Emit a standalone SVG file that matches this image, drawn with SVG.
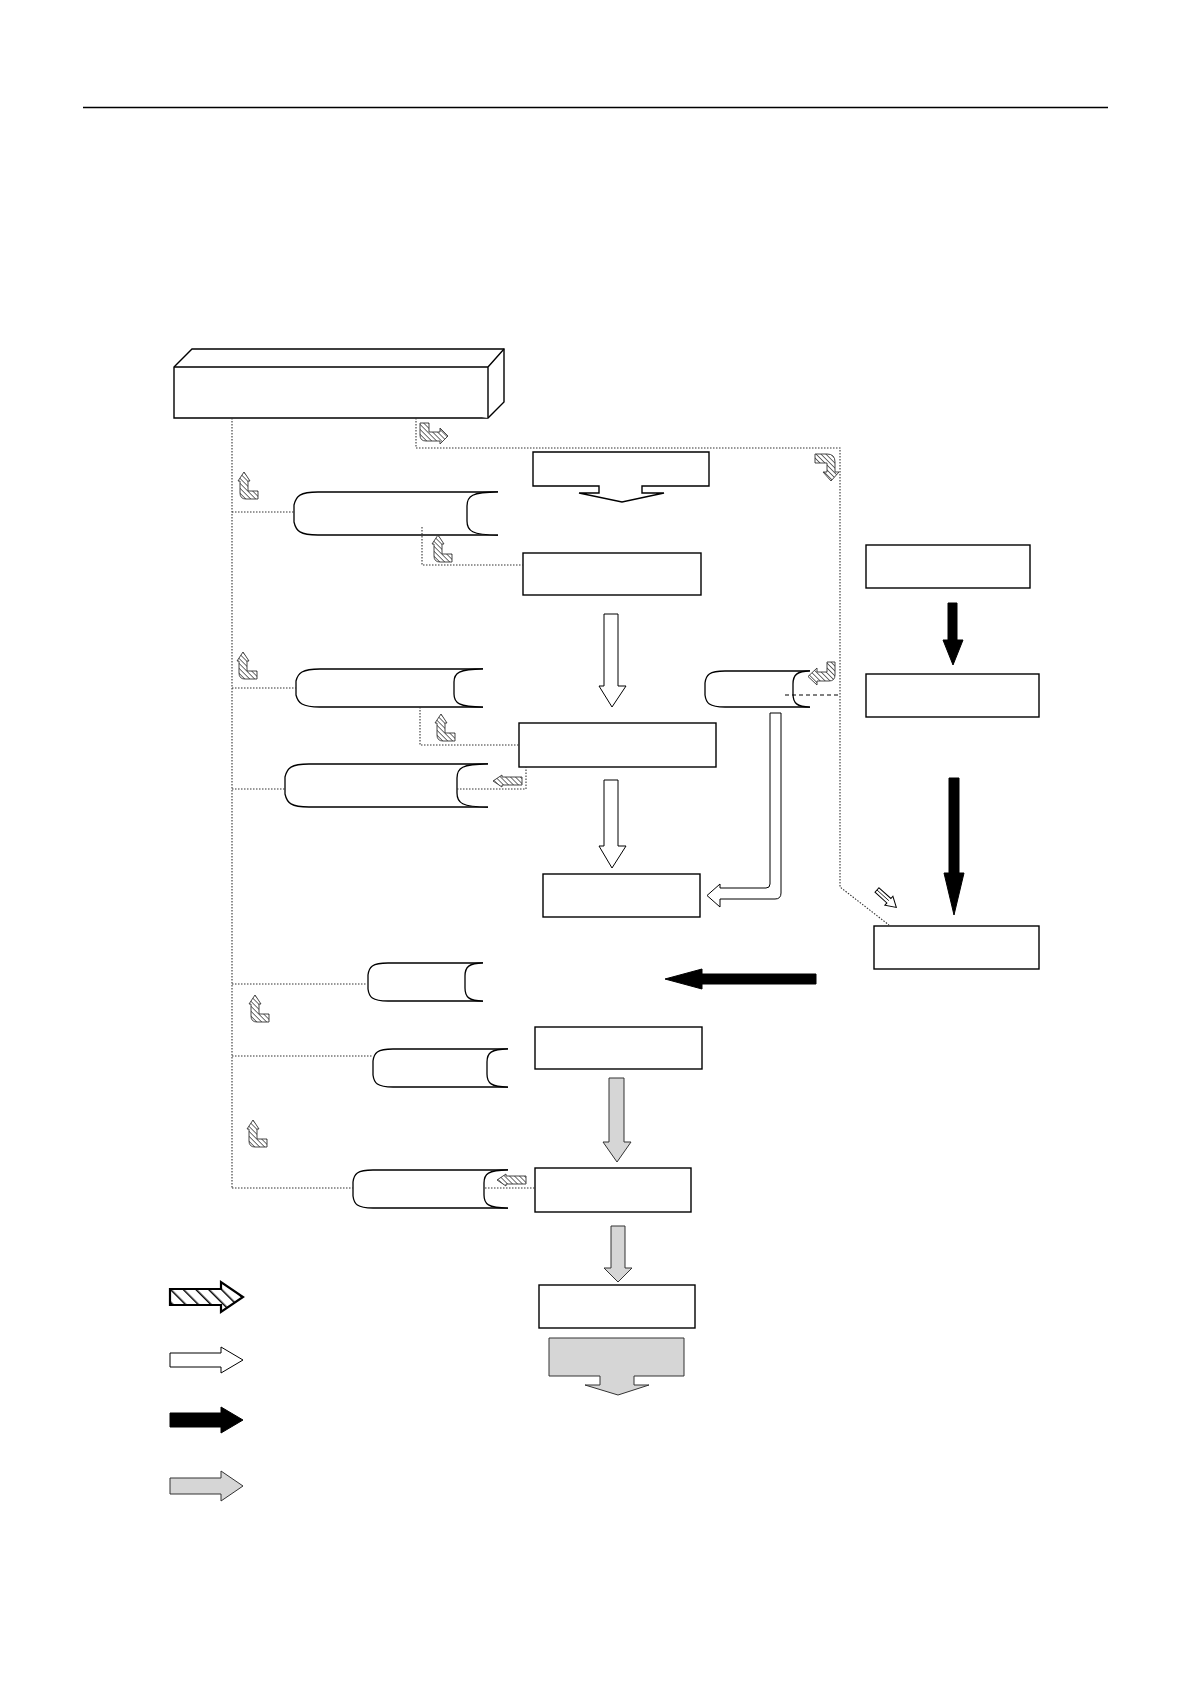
<svg xmlns="http://www.w3.org/2000/svg" width="1191" height="1684" viewBox="0 0 1191 1684">
<style>
.box{fill:#fff;stroke:#000;stroke-width:1.4}
.cyl{fill:#fff;stroke:#000;stroke-width:1.3}
.dot{fill:none;stroke:#333;stroke-width:1.1;stroke-dasharray:1.5,1.5}
.dash{fill:none;stroke:#000;stroke-width:1;stroke-dasharray:4,3}
.wa{fill:#fff;stroke:#000;stroke-width:1}
.ba{fill:#000;stroke:#000;stroke-width:1}
.ga{fill:#d6d6d6;stroke:#333;stroke-width:1}
.ha{fill:url(#hatch);stroke:#333;stroke-width:0.9}
.hl{fill:url(#hatchL);stroke:#000;stroke-width:2.2}
</style>
<defs>
<pattern id="hatch" patternUnits="userSpaceOnUse" width="3.5" height="3.5" patternTransform="rotate(-45)">
<rect width="3.5" height="3.5" fill="#fff"/>
<line x1="0" y1="0" x2="0" y2="3.5" stroke="#222" stroke-width="1.3"/>
</pattern>
<pattern id="hatchL" patternUnits="userSpaceOnUse" width="9" height="9" patternTransform="rotate(-45)">
<rect width="9" height="9" fill="#fff"/>
<line x1="0" y1="0" x2="0" y2="9" stroke="#000" stroke-width="3"/>
</pattern>
<path id="hUp" d="M6,0 L12,9 L10,9 L10,19 L20,19 L20,27 L8,27 Q2,27 2,21 L2,9 L0,9 Z"/>
<path id="hLeft" d="M0,6 L9,0 L9,2 L29,2 L29,10 L9,10 L9,12 Z"/>
</defs>

<line x1="83" y1="107.5" x2="1108" y2="107.5" stroke="#000" stroke-width="1.4"/>

<g id="node-source">
<path class="box" d="M174,367 L192,349 L504,349 L504,402 L488,418 L174,418 Z"/>
<path class="box" d="M174,367 H488 V418 M488,367 L504,349" fill="none"/>
</g>

<g id="node-r1">
<path class="box" d="M533,452 H709 V486 H642 V493 H664 L622,502 L579,493 H599 V486 H533 Z"/>
</g>
<g id="node-r2"><rect class="box" x="523" y="553" width="178" height="42"/></g>
<g id="node-r3"><rect class="box" x="519" y="723" width="197" height="44"/></g>
<g id="node-r4"><rect class="box" x="543" y="874" width="157" height="43"/></g>
<g id="node-r5"><rect class="box" x="866" y="545" width="164" height="43"/></g>
<g id="node-r6"><rect class="box" x="866" y="674" width="173" height="43"/></g>
<g id="node-r7"><rect class="box" x="874" y="926" width="165" height="43"/></g>
<g id="node-r8"><rect class="box" x="535" y="1027" width="167" height="42"/></g>
<g id="node-r9"><rect class="box" x="535" y="1168" width="156" height="44"/></g>
<g id="node-r10"><rect class="box" x="539" y="1285" width="156" height="43"/></g>
<g id="node-out">
<path class="ga" d="M549,1338 H684 V1376 H634 V1385 H649 L618,1395 L585,1385 H600 V1376 H549 Z"/>
</g>

<g id="node-c1">
<path class="cyl" d="M498,492 H318 C300,492 296,496 294,505 V522 C296,531 300,535 318,535 H498"/>
<path class="cyl" d="M498,492 C472,492 467,496 467,506 V521 C467,531 472,535 498,535" fill="none"/>
</g>
<g id="node-c2">
<path class="cyl" d="M483,669 H320 C302,669 298,673 296,681 V695 C298,703 302,707 320,707 H483"/>
<path class="cyl" d="M483,669 C459,669 454,673 454,682 V694 C454,703 459,707 483,707" fill="none"/>
</g>
<g id="node-c3">
<path class="cyl" d="M488,764 H309 C291,764 287,768 285,777 V794 C287,803 291,807 309,807 H488"/>
<path class="cyl" d="M488,764 C462,764 457,768 457,778 V793 C457,803 462,807 488,807" fill="none"/>
</g>
<g id="node-c4">
<path class="cyl" d="M810,671 H725 C709,671 706,675 705,683 V695 C706,703 709,707 725,707 H810"/>
<path class="cyl" d="M810,671 C797,671 793,675 793,684 V694 C793,703 797,707 810,707" fill="none"/>
</g>
<g id="node-c5">
<path class="cyl" d="M483,963 H388 C372,963 369,967 368,975 V989 C369,997 372,1001 388,1001 H483"/>
<path class="cyl" d="M483,963 C469,963 465,967 465,976 V988 C465,997 469,1001 483,1001" fill="none"/>
</g>
<g id="node-c6">
<path class="cyl" d="M508,1049 H393 C377,1049 374,1053 373,1061 V1075 C374,1083 377,1087 393,1087 H508"/>
<path class="cyl" d="M508,1049 C491,1049 487,1053 487,1062 V1074 C487,1083 491,1087 508,1087" fill="none"/>
</g>
<g id="node-c7">
<path class="cyl" d="M508,1170 H373 C357,1170 354,1174 353,1182 V1196 C354,1204 357,1208 373,1208 H508"/>
<path class="cyl" d="M508,1170 C488,1170 484,1174 484,1183 V1195 C484,1204 488,1208 508,1208" fill="none"/>
</g>

<g id="connectors">
<path class="dot" d="M232,418 V1188"/>
<path class="dot" d="M416,418 V448 H840 V887 L889,925"/>
<path class="dot" d="M232,512 H294"/>
<path class="dot" d="M422,527 V565 H523"/>
<path class="dot" d="M232,688 H296"/>
<path class="dot" d="M420,707 V745 H519"/>
<path class="dot" d="M232,789 H285"/>
<path class="dot" d="M457,789 H526 V767"/>
<path class="dot" d="M232,984 H367"/>
<path class="dot" d="M232,1056 H373"/>
<path class="dot" d="M232,1188 H353"/>
<path class="dot" d="M485,1188 H535"/>
<path class="dash" d="M785,695 H839"/>

<!-- white arrows -->
<path class="wa" d="M604,614 H618 V686 H626 L612,707 L599,686 H604 Z"/>
<path class="wa" d="M604,780 H618 V846 H626 L612,868 L599,846 H604 Z"/>
<path class="wa" d="M770,713 H781 V893 Q781,899 775,899 H720 V907 L707,895.5 L720,884 V888 H766 Q770,888 770,884 Z"/>
<!-- black arrows -->
<path class="ba" d="M948,603 H957 V640 H963 L953,665 L943,640 H948 Z"/>
<path class="ba" d="M949,778 H959 V873 H964 L954,915 L944,873 H949 Z"/>
<path class="ba" d="M816,974 V984 H702 V989 L665,979 L702,969 V974 Z"/>
<!-- gray arrows -->
<path class="ga" d="M609,1078 H624 V1142 H631 L617,1162 L603,1142 H609 Z"/>
<path class="ga" d="M611,1226 H625 V1268 H632 L618,1282 L604,1268 H611 Z"/>
<!-- small hatched arrows -->
<path class="ha" d="M420,423 L429,423 L429,432 L440,432 L440,428 L448,436 L440,444 L440,441 L426,441 Q420,441 420,435 Z"/>
<path class="ha" d="M815,454 L827,454 Q835,454 835,462 L835,472 L839,472 L831,481 L823,472 L827,472 L827,463 L815,463 Z"/>
<use href="#hUp" class="ha" x="238" y="472"/>
<use href="#hUp" class="ha" x="432" y="535"/>
<use href="#hUp" class="ha" x="237" y="652"/>
<use href="#hUp" class="ha" x="435" y="714"/>
<use href="#hUp" class="ha" x="249" y="995"/>
<use href="#hUp" class="ha" x="247" y="1120"/>
<use href="#hLeft" class="ha" x="493" y="775"/>
<use href="#hLeft" class="ha" x="497" y="1174"/>
<path class="ha" d="M827,662 L835,662 L835,675 Q835,681 829,681 L817,681 L817,685 L808,676.5 L817,668 L817,672 L827,672 Z"/>
<g transform="translate(877,890) rotate(42)">
<path class="wa" d="M0,-3 L16,-3 L16,-6 L26,0 L16,6 L16,3 L0,3 Z"/>
<path d="M0,0 L16,0" stroke="#000" stroke-width="0.8"/>
</g>
</g>

<g id="legend">
<path class="hl" d="M170,1289 H221 V1282 L243,1297 L221,1312 V1305 H170 Z"/>
<path class="wa" d="M170,1353 H221 V1347 L243,1360 L221,1373 V1367 H170 Z"/>
<path class="ba" d="M170,1413 H221 V1407 L243,1420 L221,1433 V1427 H170 Z"/>
<path class="ga" d="M170,1478 H221 V1471 L243,1486 L221,1501 V1494 H170 Z"/>
</g>
</svg>
